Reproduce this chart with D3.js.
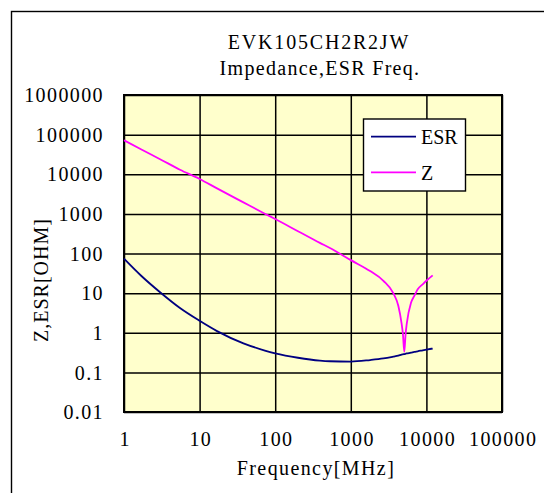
<!DOCTYPE html>
<html>
<head>
<meta charset="utf-8">
<script src="https://cdn.jsdelivr.net/npm/d3@7"></script>
<style>
body { margin: 0; background: #fff; }
svg text { font-family: "Liberation Serif", "Times New Roman", Times, "DejaVu Serif", serif; fill: #000; }
</style>
</head>
<body>
<svg id="chart" width="544" height="493" font-family="Liberation Serif, serif"></svg>
<script>
'use strict';

// values (MHz / ohm)
var freq   = [1, 1.7, 3, 5.5, 10, 17, 38, 73, 100, 200, 390, 530, 1000, 1800, 2700, 3650, 4250, 4700, 4900, 5100, 5300, 5500, 6260, 6920, 7670, 8930, 10000, 12100];
var zOhm   = [72000, 42000, 24000, 13000, 7600, 4400, 1950, 1010, 740, 365, 185, 138, 68, 36, 20.5, 10, 4.8, 1.7, 0.9, 0.33, 0.9, 1.7, 5.7, 8.5, 12.5, 16.7, 20.5, 28];
var esrOhm = [74, 27, 10.5, 4.2, 2.0, 1.1, 0.54, 0.356, 0.303, 0.234, 0.198, 0.191, 0.187, 0.205, 0.225, 0.25, 0.265, 0.28, 0.285, 0.29, 0.295, 0.30, 0.315, 0.33, 0.34, 0.36, 0.375, 0.40];

var xTicks  = [1, 10, 100, 1000, 10000, 100000];
var xLabels = ['1', '10', '100', '1000', '10000', '100000'];
var yTicks  = [0.01, 0.1, 1, 10, 100, 1000, 10000, 100000, 1000000];
var yLabels = ['0.01', '0.1', '1', '10', '100', '1000', '10000', '100000', '1000000'];

var seriesNames  = ['ESR', 'Z'];
var seriesColors = ['#000080', '#ff00ff'];

var titleLines = ['EVK105CH2R2JW', 'Impedance,ESR Freq.'];

var svg = d3.select('#chart');
var pL = 124, pT = 95, pR = 502, pB = 412;

var x = d3.scaleLog().domain([1, 100000]).range([pL, pR]);
var y = d3.scaleLog().domain([0.01, 1000000]).range([pB, pT]);

// outer chart frame (runs off the picture on the right/bottom)
svg.append('rect')
    .attr('x', 11.5).attr('y', 11.5)
    .attr('width', 560).attr('height', 510)
    .attr('fill', 'none').attr('stroke', '#000').attr('stroke-width', 1.4);

// titles
svg.append('text').attr('x', 319).attr('y', 48.5)
    .attr('text-anchor', 'middle').style('font-size', '20px').style('letter-spacing', '1.8px')
    .text(titleLines[0]);
svg.append('text').attr('x', 320).attr('y', 75)
    .attr('text-anchor', 'middle').style('font-size', '20px').style('letter-spacing', '1.3px')
    .text(titleLines[1]);

// plot background
svg.append('rect')
    .attr('x', pL).attr('y', pT)
    .attr('width', pR - pL).attr('height', pB - pT)
    .attr('fill', '#ffffcc');

// x axis + vertical grid
var gx = svg.append('g')
    .attr('transform', 'translate(0,' + pB + ')')
    .call(d3.axisBottom(x)
        .tickValues(xTicks)
        .tickFormat(function(d, i) { return xLabels[i]; })
        .tickSizeInner(-(pB - pT))
        .tickSizeOuter(0));
gx.select('.domain').remove();
gx.selectAll('line').attr('stroke', '#000').attr('stroke-width', 1.5);
gx.selectAll('text')
    .attr('y', 33.5).attr('dy', null).attr('dx', 0.7)
    .style('font-size', '20px').style('letter-spacing', '1.4px');
gx.attr('font-family', null).attr('font-size', null);

// y axis + horizontal grid
var gy = svg.append('g')
    .attr('transform', 'translate(' + pL + ',0)')
    .call(d3.axisLeft(y)
        .tickValues(yTicks)
        .tickFormat(function(d, i) { return yLabels[i]; })
        .tickSizeInner(-(pR - pL))
        .tickSizeOuter(0));
gy.select('.domain').remove();
gy.selectAll('line').attr('stroke', '#000').attr('stroke-width', 1.5);
gy.selectAll('text')
    .attr('x', -20).attr('dy', 6.7)
    .style('font-size', '20px').style('letter-spacing', '1.4px');
gy.attr('font-family', null).attr('font-size', null);

// plot border
svg.append('rect')
    .attr('x', pL).attr('y', pT)
    .attr('width', pR - pL).attr('height', pB - pT)
    .attr('fill', 'none').attr('stroke', '#000').attr('stroke-width', 2);

// axis titles
svg.append('text').attr('x', 316).attr('y', 475)
    .attr('text-anchor', 'middle').style('font-size', '20px').style('letter-spacing', '1.4px')
    .text('Frequency[MHz]');
svg.append('text')
    .attr('transform', 'translate(48,280) rotate(-90)')
    .attr('text-anchor', 'middle').style('font-size', '20px').style('letter-spacing', '1px')
    .text('Z,ESR[OHM]');

// curves
var line = d3.line()
    .x(function(d) { return x(d[0]); })
    .y(function(d) { return y(d[1]); })
    .curve(d3.curveMonotoneX);

[esrOhm, zOhm].forEach(function(vals, i) {
    svg.append('path')
        .datum(freq.map(function(f, j) { return [f, vals[j]]; }))
        .attr('d', line)
        .attr('fill', 'none')
        .attr('stroke', seriesColors[i])
        .attr('stroke-width', 1.8);
});

// legend
var lg = svg.append('g');
lg.append('rect')
    .attr('x', 363.5).attr('y', 119)
    .attr('width', 102).attr('height', 72)
    .attr('fill', '#fff').attr('stroke', '#000').attr('stroke-width', 1.4);
seriesNames.forEach(function(name, i) {
    var ly = 136.7 + i * 35.6;
    lg.append('line')
        .attr('x1', 371).attr('x2', 416)
        .attr('y1', ly).attr('y2', ly)
        .attr('stroke', seriesColors[i]).attr('stroke-width', 1.8);
    lg.append('text')
        .attr('x', 421).attr('y', ly + 7.3)
        .style('font-size', '20px')
        .text(name);
});
</script>
</body>
</html>
